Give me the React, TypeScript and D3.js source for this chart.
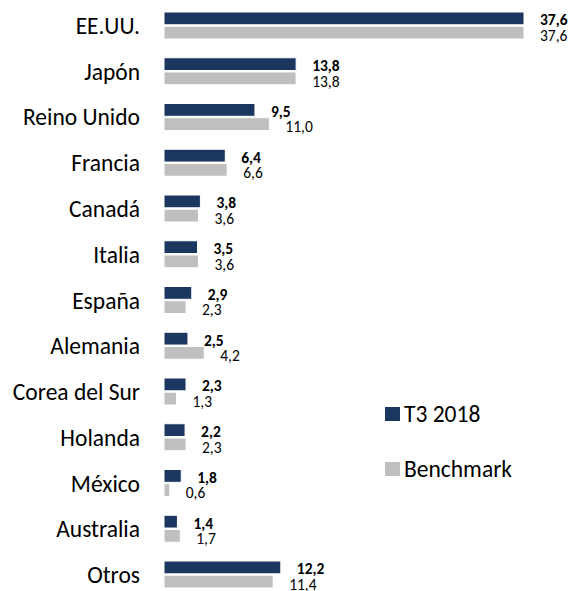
import React from "react";
import * as d3 from "d3";

const categories = ["EE.UU.", "Japón", "Reino Unido", "Francia", "Canadá", "Italia", "España", "Alemania", "Corea del Sur", "Holanda", "México", "Australia", "Otros"];
const t3_2018 = [37.6, 13.8, 9.5, 6.4, 3.8, 3.5, 2.9, 2.5, 2.3, 2.2, 1.8, 1.4, 12.2];
const benchmark = [37.6, 13.8, 11.0, 6.6, 3.6, 3.6, 2.3, 4.2, 1.3, 2.3, 0.6, 1.7, 11.4];
const seriesNames = ["T3 2018", "Benchmark"];
const colors = ["#1b365f", "#bfbfbf"];

const W = 574;
const H = 591;
const FONT = "Carlito, Calibri, 'Open Sans', sans-serif";

function fmt(v: number) {
  return v.toFixed(1).replace(".", ",");
}

export default function App() {
  const x = d3.scaleLinear().domain([0, 37.6]).range([164, 524]);
  const y = d3.scaleBand<string>().domain(categories).range([12, 588]).paddingInner(0.41).paddingOuter(0);
  const inner = d3.scaleBand<string>().domain(seriesNames).range([0, y.bandwidth()]).paddingInner(0.1);
  const series = [t3_2018, benchmark];

  return (
    <svg width={W} height={H} style={{ position: "absolute", left: 0, top: 0, background: "#fff" }}>
      {categories.map((c, i) => {
        const y0 = y(c)!;
        return (
          <g key={c}>
            <text x={140} y={y0 + y.bandwidth() / 2 + 8.5} textAnchor="end" fontFamily={FONT} fontSize={23.5} fill="#000">{c}</text>
            {series.map((s, j) => {
              const by = y0 + inner(seriesNames[j])!;
              const end = x(s[i]);
              return (
                <g key={j}>
                  <rect x={x(0)} y={by} width={end - x(0)} height={inner.bandwidth()} fill={colors[j]} stroke="#fff" strokeWidth={1} />
                  <text
                    x={end + 16}
                    y={by + inner.bandwidth() + (j === 0 ? 0.5 : 2)}
                    textAnchor="start"
                    fontFamily={FONT}
                    fontSize={15.5}
                    fontWeight={j === 0 ? "bold" : "normal"}
                    fill="#000"
                  >{fmt(s[i])}</text>
                </g>
              );
            })}
          </g>
        );
      })}
      {seriesNames.map((n, j) => (
        <g key={n} transform={`translate(385, ${407 + j * 55})`}>
          <rect x={0} y={0} width={15} height={14} fill={colors[j]} />
          <text x={19} y={14.5} fontFamily={FONT} fontSize={23.5} fill="#000">{n}</text>
        </g>
      ))}
    </svg>
  );
}
